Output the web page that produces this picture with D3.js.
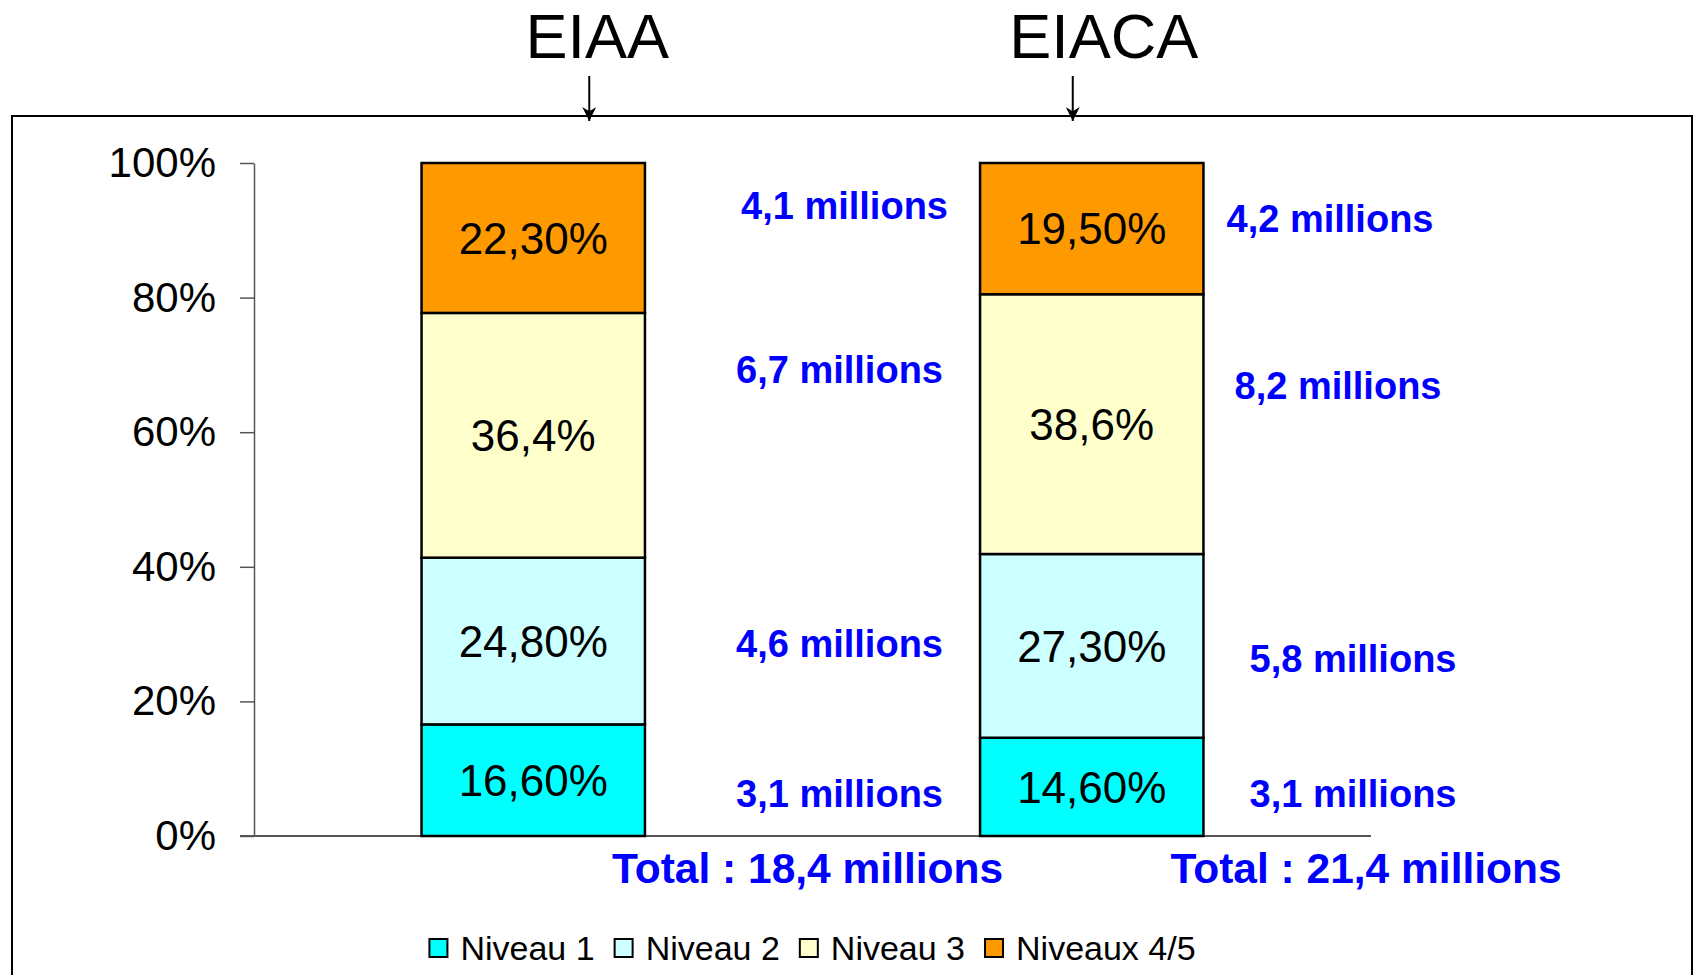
<!DOCTYPE html>
<html>
<head>
<meta charset="utf-8">
<script src="https://cdn.jsdelivr.net/npm/d3@7"></script>
<style>
  html, body { margin: 0; padding: 0; background: #fff; }
  svg { display: block; font-family: "Liberation Sans", Arial, sans-serif; }
</style>
</head>
<body>
<svg id="chart" width="1694" height="975"></svg>
<script>
// Data
const categories = ['EIAA', 'EIACA'];
const levels = ['Niveau 1', 'Niveau 2', 'Niveau 3', 'Niveaux 4/5'];
const valuesEIAA = [16.6, 24.8, 36.4, 22.3];
const valuesEIACA = [14.6, 27.3, 38.6, 19.5];
const pctLabelsEIAA = ['16,60%', '24,80%', '36,4%', '22,30%'];
const pctLabelsEIACA = ['14,60%', '27,30%', '38,6%', '19,50%'];
const millionsEIAA = ['3,1 millions', '4,6 millions', '6,7 millions', '4,1 millions'];
const millionsEIACA = ['3,1 millions', '5,8 millions', '8,2 millions', '4,2 millions'];
const totals = ['Total : 18,4 millions', 'Total : 21,4 millions'];
const yTicks = [0, 20, 40, 60, 80, 100];

// Styles / layout
const colors = ['#00ffff', '#ccffff', '#ffffcc', '#ff9900'];
const blue = '#0000ff';
// the slide's annotations were placed by hand, these nudge them off the computed spot
const titleShift = [64, 12];
const arrowShift = [56, -19];
const nudgeX = [[27, 27, 27, 32], [-18, -18, -33, -41]];
const nudgeY = [[13, 2, -66, -33], [6, 12, -39, -10]];

const values = [valuesEIAA, valuesEIACA];
const pctLabels = [pctLabelsEIAA, pctLabelsEIACA];
const millions = [millionsEIAA, millionsEIACA];

const rows = categories.map(function(c, i) {
  const r = { cat: c, idx: i };
  levels.forEach(function(l, j) { r[l] = values[i][j]; });
  return r;
});

const series = d3.stack().keys(levels).offset(d3.stackOffsetExpand)(rows);

const svg = d3.select('#chart');

// frame
svg.append('rect')
  .attr('x', 12).attr('y', 116)
  .attr('width', 1680).attr('height', 900)
  .attr('fill', 'none').attr('stroke', '#000').attr('stroke-width', 2);

var x = d3.scaleBand()
  .domain(categories)
  .range([254, 1371])
  .paddingInner(0.6)
  .paddingOuter(0.3);

var y = d3.scaleLinear().domain([0, 1]).range([836, 163]);

// y axis
var yAxis = svg.append('g')
  .attr('transform', 'translate(254,0)')
  .call(d3.axisLeft(y)
    .tickValues(yTicks.map(function(v) { return v / 100; }))
    .tickFormat(function(d) { return Math.round(d * 100) + '%'; })
    .tickSize(14)
    .tickSizeOuter(0)
    .tickPadding(24));
yAxis.select('.domain').attr('stroke', '#555').attr('stroke-width', 1.5);
yAxis.selectAll('.tick line').attr('stroke', '#555').attr('stroke-width', 1.5);
yAxis.selectAll('.tick text')
  .attr('fill', '#000')
  .style('font-size', '42px')
  .style('font-family', '"Liberation Sans", Arial, sans-serif');

// baseline
svg.append('line')
  .attr('x1', 240).attr('x2', x.range()[1])
  .attr('y1', y(0)).attr('y2', y(0))
  .attr('stroke', '#555').attr('stroke-width', 2);

// bars
var layers = svg.append('g').selectAll('g')
  .data(series)
  .join('g')
  .attr('fill', function(d, i) { return colors[i]; });

layers.selectAll('rect')
  .data(function(d) { return d; })
  .join('rect')
  .attr('x', function(d) { return x(d.data.cat); })
  .attr('y', function(d) { return y(d[1]); })
  .attr('width', x.bandwidth())
  .attr('height', function(d) { return y(d[0]) - y(d[1]); })
  .attr('stroke', '#000')
  .attr('stroke-width', 2.5);

// labels
series.forEach(function(s, j) {
  s.forEach(function(d, i) {
    var mid = (y(d[0]) + y(d[1])) / 2;
    svg.append('text')
      .attr('x', x(d.data.cat) + x.bandwidth() / 2)
      .attr('y', mid)
      .attr('dy', '0.36em')
      .attr('text-anchor', 'middle')
      .style('font-size', '44px')
      .attr('fill', '#000')
      .text(pctLabels[i][j]);

    svg.append('text')
      .attr('x', x(d.data.cat) + x.bandwidth() / 2 + x.step() / 2 + nudgeX[i][j])
      .attr('y', mid + nudgeY[i][j])
      .attr('dy', '0.36em')
      .attr('text-anchor', 'middle')
      .style('font-size', '38px')
      .style('font-weight', 'bold')
      .attr('fill', blue)
      .text(millions[i][j]);
  });
});

// totals
categories.forEach(function(c, i) {
  svg.append('text')
    .attr('x', x(c) + x.bandwidth() / 2 + x.step() / 2 - 5)
    .attr('y', y(0) + 32)
    .attr('dy', '0.36em')
    .attr('text-anchor', 'middle')
    .style('font-size', '42.5px')
    .style('font-weight', 'bold')
    .attr('fill', blue)
    .text(totals[i]);
});

// titles with arrows
svg.append('defs').append('marker')
  .attr('id', 'arrow')
  .attr('viewBox', '0 0 10 10')
  .attr('refX', 10).attr('refY', 5)
  .attr('markerWidth', 15).attr('markerHeight', 14)
  .attr('markerUnits', 'userSpaceOnUse')
  .attr('orient', 'auto')
  .append('path')
  .attr('d', 'M0,0 L10,5 L0,10 L3,5 Z')
  .attr('fill', '#000');

categories.forEach(function(c, i) {
  var cx = x(c) + x.bandwidth() / 2;
  svg.append('text')
    .attr('x', cx + titleShift[i])
    .attr('y', 58)
    .attr('text-anchor', 'middle')
    .style('font-size', '63px')
    .attr('fill', '#000')
    .text(c);
  svg.append('line')
    .attr('x1', cx + arrowShift[i]).attr('x2', cx + arrowShift[i])
    .attr('y1', 76).attr('y2', 121)
    .attr('stroke', '#000').attr('stroke-width', 2)
    .attr('marker-end', 'url(#arrow)');
});

// legend
var legend = svg.append('g');
var lx = 0;
levels.forEach(function(l, i) {
  var g = legend.append('g').attr('transform', 'translate(' + lx + ',0)');
  g.append('rect')
    .attr('x', 0).attr('y', -9)
    .attr('width', 18).attr('height', 18)
    .attr('fill', colors[i])
    .attr('stroke', '#000').attr('stroke-width', 2);
  var t = g.append('text')
    .attr('x', 31).attr('y', 0)
    .attr('dy', '0.36em')
    .style('font-size', '34px')
    .attr('fill', '#000')
    .text(l);
  lx += 31 + t.node().getComputedTextLength() + 20;
});
var legendW = lx - 20;
var midX = (x.range()[0] + x.range()[1]) / 2;
legend.attr('transform', 'translate(' + (midX - legendW / 2) + ',948)');
</script>
</body>
</html>
